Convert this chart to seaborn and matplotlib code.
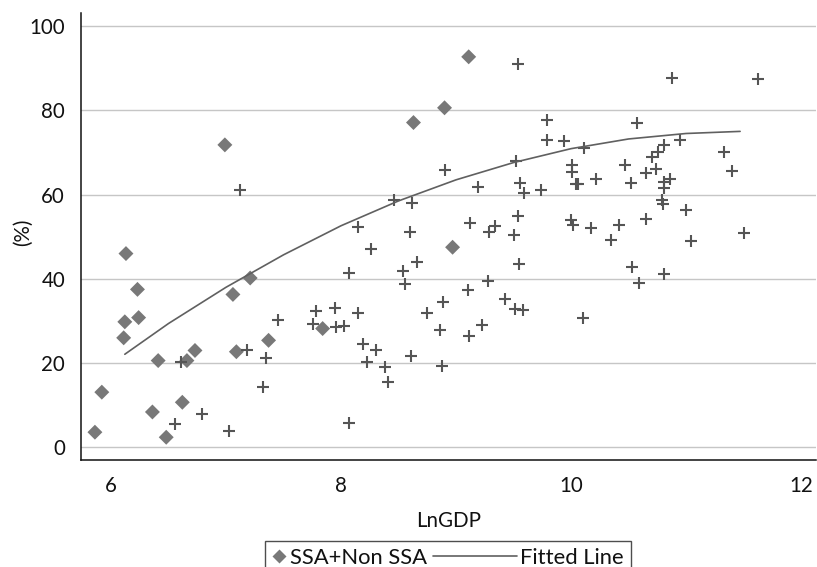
import matplotlib
matplotlib.use("Agg")
import matplotlib.pyplot as plt
from matplotlib.lines import Line2D
from matplotlib.legend_handler import HandlerLine2D
import seaborn as sns
import pandas as pd

# Sub-Saharan Africa countries (diamonds)
ssa_lngdp = [5.86, 5.92, 6.11, 6.12, 6.13, 6.23, 6.24, 6.36, 6.41, 6.48, 6.62, 6.66,
             6.73, 6.99, 7.06, 7.09, 7.21, 7.37, 7.84, 8.63, 8.90, 8.97, 9.11]
ssa_pct = [3.6, 13.1, 26.0, 29.8, 46.0, 37.5, 30.8, 8.4, 20.6, 2.4, 10.7, 20.6,
           23.0, 71.8, 36.3, 22.7, 40.2, 25.4, 28.2, 77.1, 80.6, 47.5, 92.7]

# Non-SSA countries (crosses)
nonssa_lngdp = [7.12, 6.61, 7.18, 7.35, 7.45, 7.32, 6.79, 6.56, 7.03, 7.78, 7.76,
                9.54, 9.79, 9.79, 9.94, 9.52, 8.90, 9.19, 9.56, 9.59, 9.74,
                10.01, 10.01, 10.04, 10.06, 8.46, 8.62, 8.15, 9.12, 9.54, 9.34,
                9.29, 9.50, 10.00, 10.02, 8.60, 8.26, 8.66, 8.54, 8.07, 8.56,
                9.55, 9.28, 9.10, 8.89, 8.75, 9.43, 9.51, 9.58, 9.23, 9.11,
                8.86, 7.95, 8.15, 7.96, 8.03, 8.19, 8.30, 8.23, 8.38, 8.61,
                8.41, 8.88, 8.07, 10.88, 11.63, 10.57, 10.11, 10.95, 10.81, 10.76,
                10.70, 11.33, 11.40, 10.47, 10.74, 10.65, 10.22, 10.52, 10.86, 10.81,
                10.81, 10.79, 10.80, 11.00, 10.65, 10.42, 10.17, 10.35, 11.04, 11.50,
                10.53, 10.81, 10.59, 10.10]
nonssa_pct = [61.1, 20.2, 23.1, 21.2, 30.2, 14.4, 7.9, 5.6, 3.8, 32.4, 29.2,
              91.0, 77.6, 73.0, 72.6, 67.9, 65.9, 61.7, 62.7, 60.3, 61.0,
              67.1, 65.4, 62.5, 62.5, 58.7, 57.9, 52.2, 53.2, 54.8, 52.6,
              51.2, 50.5, 54.0, 52.8, 51.1, 47.1, 44.1, 41.9, 41.5, 38.7,
              43.5, 39.5, 37.3, 34.5, 31.8, 35.2, 32.9, 32.6, 29.0, 26.4,
              27.8, 33.0, 31.8, 28.6, 28.7, 24.6, 23.0, 20.3, 19.0, 21.7,
              15.5, 19.3, 5.8, 87.6, 87.4, 77.0, 71.1, 73.0, 71.8, 70.1,
              68.9, 70.2, 65.7, 67.1, 66.1, 65.1, 63.7, 62.7, 63.7, 63.0,
              61.6, 58.6, 57.8, 56.3, 54.2, 52.8, 52.0, 49.2, 49.0, 50.8,
              42.9, 41.1, 39.1, 30.8]

# Fitted curve
fit_lngdp = [6.12, 6.50, 7.00, 7.50, 8.00, 8.50, 9.00, 9.50, 10.00, 10.50, 11.00, 11.47]
fit_pct = [22.1, 29.4, 38.0, 45.7, 52.6, 58.5, 63.5, 67.6, 70.9, 73.2, 74.5, 75.0]

x_ticks = [6, 8, 10, 12]
y_ticks = [0, 20, 40, 60, 80, 100]

ssa = pd.DataFrame({"LnGDP": ssa_lngdp, "pct": ssa_pct})
nonssa = pd.DataFrame({"LnGDP": nonssa_lngdp, "pct": nonssa_pct})
fit = pd.DataFrame({"LnGDP": fit_lngdp, "pct": fit_pct})

sns.set_theme(style="white")
plt.rcParams["font.family"] = ["Lato", "DejaVu Sans"]

FS = 14.8
LEG_FS = 15.8

fig = plt.figure(figsize=(8.17, 5.67), dpi=100)
ax = fig.add_axes([81 / 817, 1 - 460 / 567, 735 / 817, 447 / 567])

diamond_color = "#787878"
cross_color = "#555555"
line_color = "#606060"

ax.set_axisbelow(True)
ax.yaxis.grid(True, color="#c6c6c6", linewidth=1.0)
ax.xaxis.grid(False)

sns.scatterplot(data=ssa, x="LnGDP", y="pct", marker="D", s=58,
                color=diamond_color, edgecolor="none", ax=ax, zorder=3)
sns.scatterplot(data=nonssa, x="LnGDP", y="pct", marker="+", s=80,
                color=cross_color, linewidth=1.5, ax=ax, zorder=3)
sns.lineplot(data=fit, x="LnGDP", y="pct", color=line_color, linewidth=1.2,
             ax=ax, zorder=4, sort=True, estimator=None)

ax.set_xlim(5.739, 12.13)
ax.set_ylim(-3.0, 103.1)
ax.set_xticks(x_ticks)
ax.set_yticks(y_ticks)
ax.set_xticklabels([str(t) for t in x_ticks])
ax.set_yticklabels([str(t) for t in y_ticks])

for side in ["top", "right"]:
    ax.spines[side].set_visible(False)
for side in ["left", "bottom"]:
    ax.spines[side].set_color("#111111")
    ax.spines[side].set_linewidth(1.1)

ax.tick_params(axis="both", which="major", direction="out", length=6.5,
               width=1.0, color="#111111", labelsize=FS, labelcolor="#111111")
ax.tick_params(axis="y", pad=5)
ax.tick_params(axis="x", pad=5)

ax.set_xlabel("LnGDP", fontsize=FS, color="#111111")
ax.set_ylabel("(%)", fontsize=FS, color="#111111")
ax.xaxis.set_label_coords(0.5, -(511 - 460) / 447)
ax.yaxis.set_label_coords(-(81 - 33) / 735, 0.51)


class LongLineHandler(HandlerLine2D):
    """Draws the legend line extending to the left of its handle box."""

    def __init__(self, extra, **kw):
        super().__init__(**kw)
        self.extra = extra

    def create_artists(self, legend, orig_handle, xdescent, ydescent,
                       width, height, fontsize, trans):
        y = height / 2.0 - ydescent
        line = Line2D([-xdescent - self.extra, width - xdescent], [y, y])
        self.update_prop(line, orig_handle, legend)
        line.set_marker("")
        line.set_transform(trans)
        return [line]


h_ssa = Line2D([], [], marker="D", linestyle="none", markersize=6.8,
               markerfacecolor=diamond_color, markeredgecolor="none")
h_fit = Line2D([], [], color=line_color, linewidth=1.2)

leg = fig.legend([h_ssa, h_fit], ["SSA+Non SSA", "Fitted Line"],
                 loc="upper center", bbox_to_anchor=(448 / 817, 1 - 541 / 567),
                 ncol=2, fontsize=LEG_FS, frameon=True, fancybox=False,
                 handlelength=0.64, handletextpad=0.16, columnspacing=3.45,
                 borderpad=0.32, borderaxespad=0,
                 handler_map={h_fit: LongLineHandler(extra=50)})
leg.get_frame().set_edgecolor("#222222")
leg.get_frame().set_linewidth(1.0)
for t in leg.get_texts():
    t.set_color("#111111")

fig.savefig("out.png", dpi=100)
